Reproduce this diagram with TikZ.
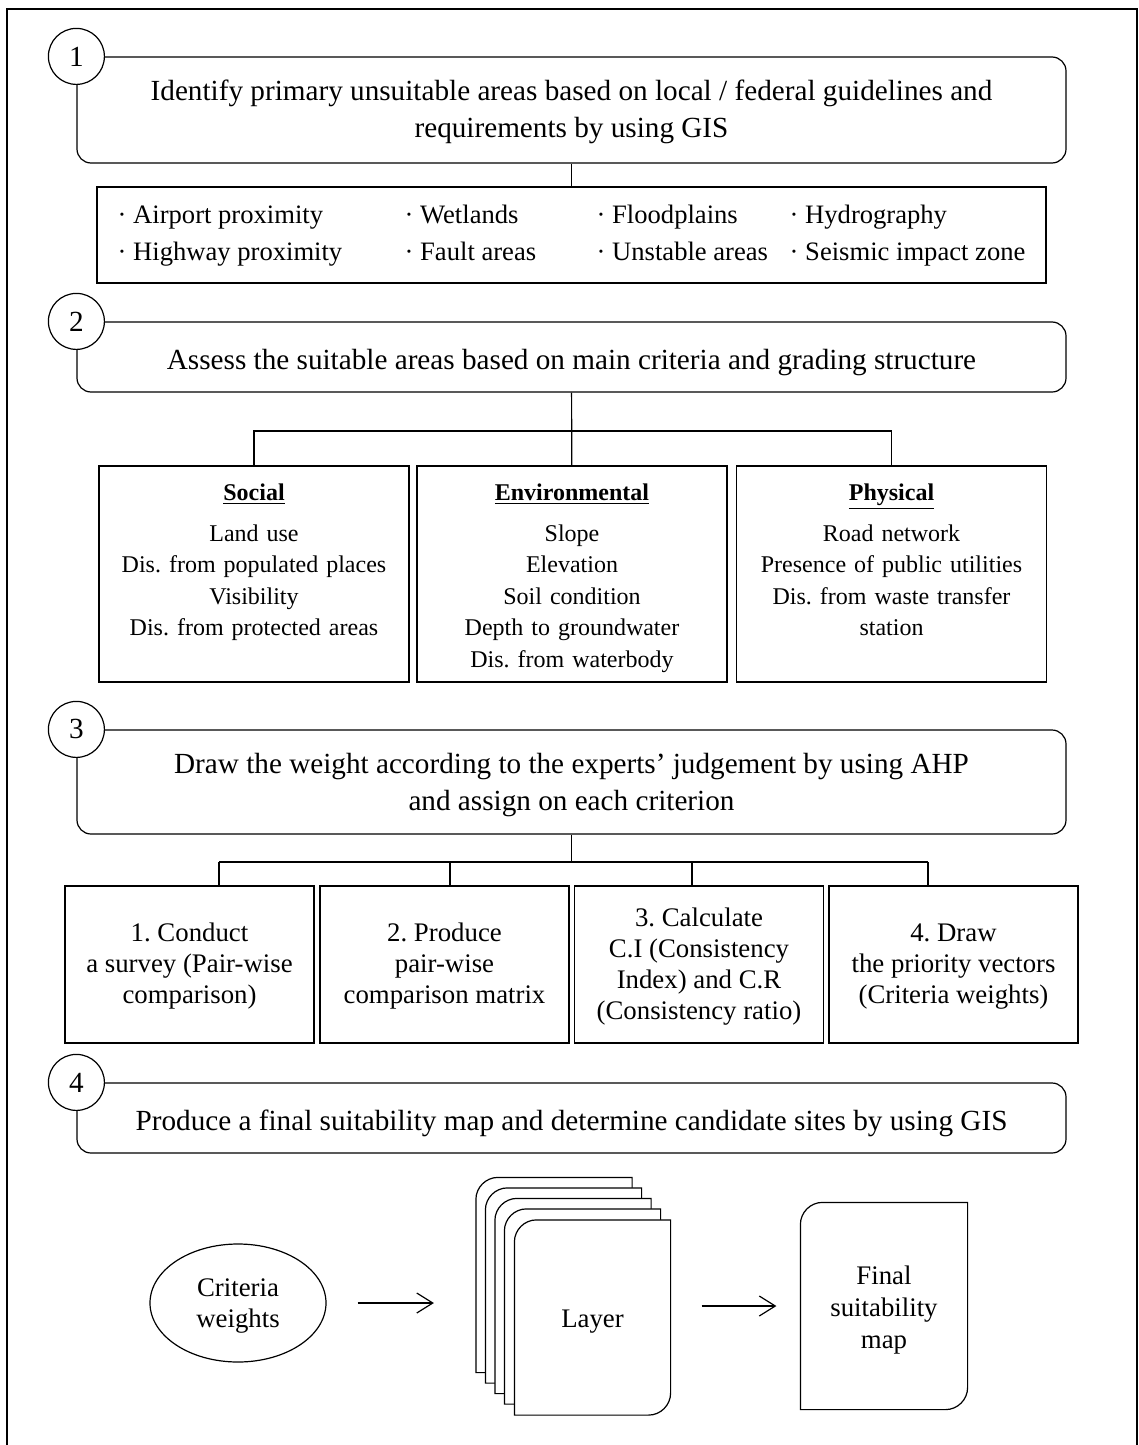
\documentclass[tikz,border=0pt]{standalone}
\usepackage{fontspec}
\setmainfont{Liberation Serif}
\frenchspacing
\usetikzlibrary{shapes.geometric,arrows.meta}

\begin{document}
\begin{tikzpicture}[x=0.5pt, y=-0.5pt, line width=0.6pt,
    head/.style={draw, rounded corners=7pt, minimum width=494.5pt, align=center, inner ysep=0pt, text height=23.5pt, text depth=11.5pt, font=\fontsize{14.6}{18.5}\selectfont},
    num/.style={draw, circle, fill=white, minimum size=28pt, inner sep=0pt, font=\fontsize{14.6}{18}\selectfont},
    crit/.style={draw, text width=150pt, align=center, inner xsep=2.5pt, inner ysep=0pt, text height=17pt, text depth=91pt, font=\fontsize{12}{15.75}\selectfont},
    ahp/.style={draw, minimum width=124.5pt, align=center, inner ysep=0pt, text height=58.5pt, text depth=20pt, font=\fontsize{13.4}{15.5}\selectfont},
    sheet/.style={minimum width=77.5pt, minimum height=97pt, inner sep=0pt, align=center, font=\fontsize{13.4}{16}\selectfont,
        append after command={\pgfextra{\draw[fill=white] ([yshift=-11pt]\tikzlastnode.north west) .. controls ([yshift=-5pt]\tikzlastnode.north west) and ([xshift=5pt]\tikzlastnode.north west) .. ([xshift=11pt]\tikzlastnode.north west) -- (\tikzlastnode.north east) -- ([yshift=11pt]\tikzlastnode.south east) .. controls ([yshift=5pt]\tikzlastnode.south east) and ([xshift=-5pt]\tikzlastnode.south east) .. ([xshift=-11pt]\tikzlastnode.south east) -- (\tikzlastnode.south west) -- cycle;}}},
    arr/.style={-{Straight Barb[length=8pt, width=10pt]}}]
    \useasboundingbox (0,0) rectangle (1139,1445);
    \draw[line width=1pt] (7,1460) -- (7,9) -- (1137,9) -- (1137,1460);

    \node[head, text height=40.5pt, text depth=12.5pt] at (571.5,110) (hd1) {Identify primary unsuitable areas based on local / federal guidelines and\\requirements by using GIS};
    \node[num] at (hd1.north west) (n1) {1};
    \node[draw, minimum width=474.5pt, minimum height=48pt, font=\fontsize{13.3}{18.5}\selectfont] at (571.5,235) (hazards) {%
        \begin{tabular}{@{}p{143.5pt}@{}p{96pt}@{}p{96.5pt}@{}l@{}}
        · Airport proximity & · Wetlands & · Floodplains & · Hydrography\\
        · Highway proximity & · Fault areas & · Unstable areas & · Seismic impact zone
        \end{tabular}};

    \node[head] at (571.5,357) (hd2) {Assess the suitable areas based on main criteria and grading structure};
    \node[num] at (hd2.north west) (n2) {2};
    \node[crit] at (254,574) (social) {\textbf{\underline{Social}}\\[4.75pt]Land use\\Dis. from populated places\\Visibility\\Dis. from protected areas};
    \node[crit] at (572,574) (env) {\textbf{\underline{Environmental}}\\[4.75pt]Slope\\Elevation\\Soil condition\\Depth to groundwater\\Dis. from waterbody};
    \node[crit] at (891.5,574) (phys) {\textbf{\underline{Physical}}\\[4.75pt]Road network\\Presence of public utilities\\Dis. from waste transfer\\station};
    \coordinate (bar2) at (572,431);

    \node[head, text height=40pt, text depth=12pt] at (571.5,782) (hd3) {Draw the weight according to the experts’ judgement by using AHP\\and assign on each criterion};
    \node[num] at (hd3.north west) (n3) {3};
    \node[ahp] at (189.5,964.5) (ahp1) {1. Conduct\\a survey (Pair-wise\\comparison)};
    \node[ahp] at (444.5,964.5) (ahp2) {2. Produce\\pair-wise\\comparison matrix};
    \node[ahp, text height=66.5pt, text depth=12pt] at (699,964.5) (ahp3) {3. Calculate\\C.I (Consistency\\Index) and C.R\\(Consistency ratio)};
    \node[ahp] at (953.5,964.5) (ahp4) {4. Draw\\the priority vectors\\(Criteria weights)};
    \coordinate (bar3) at (571.5,862);
    \coordinate (d1) at (219,862);
    \coordinate (d2) at (450,862);
    \coordinate (d3) at (692,862);
    \coordinate (d4) at (928,862);

    \node[head] at (571.5,1118) (hd4) {Produce a final suitability map and determine candidate sites by using GIS};
    \node[num] at (hd4.north west) (n4) {4};
    \node[draw, ellipse, minimum width=88pt, minimum height=59pt, inner sep=0pt, align=center, text height=26pt, text depth=2pt, font=\fontsize{13.4}{15.5}\selectfont] at (238,1303) (weights) {Criteria\\weights};
    \node[sheet] at (554,1275) (layer1) {};
    \node[sheet] at (563.5,1285.5) (layer2) {};
    \node[sheet] at (573,1296) (layer3) {};
    \node[sheet] at (582.5,1306.5) (layer4) {};
    \node[sheet, text height=12.5pt, text depth=3pt] at (592.5,1317.5) (layer5) {Layer};
    \node[sheet, minimum width=83pt, minimum height=103pt, text height=44pt, text depth=2pt] at (884,1306) (final) {Final\\suitability\\map};

    \draw (hd1) -- (hazards);
    \draw (hd2) -- (env);
    \draw (social) |- (bar2) -| (phys);
    \draw (hd3) -- (bar3);
    \draw (d1) -- (d4);
    \draw (d1) -- (d1 |- ahp1.north);
    \draw (d2) -- (d2 |- ahp2.north);
    \draw (d3) -- (d3 |- ahp3.north);
    \draw (d4) -- (d4 |- ahp4.north);
    \draw[arr, shorten <=15.5pt, shorten >=21pt] (weights) -- (weights -| layer1.west);
    \draw[arr, shorten <=15.5pt, shorten >=12pt] (layer5.east |- final) -- (final);
\end{tikzpicture}
\end{document}
